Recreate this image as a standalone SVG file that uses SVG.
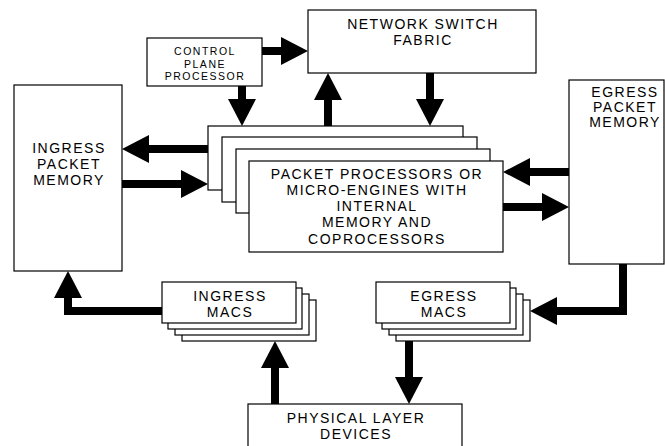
<svg xmlns="http://www.w3.org/2000/svg" width="665" height="446" viewBox="0 0 665 446">
<style>
.box{fill:#fff;stroke:#000;stroke-width:1.2}
.t{font-family:"Liberation Sans",Arial,sans-serif;font-size:14px;letter-spacing:1.5px;text-anchor:middle;fill:#000}
.ts{font-family:"Liberation Sans",Arial,sans-serif;font-size:10.5px;letter-spacing:1.5px;text-anchor:middle;fill:#000}
.a{fill:none;stroke:#000;stroke-width:8;stroke-linejoin:miter;marker-end:url(#ah)}
</style>
<defs>
<marker id="ah" markerUnits="userSpaceOnUse" markerWidth="28" markerHeight="28" refX="0" refY="14" orient="auto" overflow="visible">
<path d="M0,0 L27,14 L0,28 z" fill="#000"/>
</marker>
</defs>
<rect width="665" height="446" fill="#fff"/>
<g id="connectors">
<path class="a" d="M262,51 H281"/>
<path class="a" d="M242,86 V99"/>
<path class="a" d="M328,126 V100"/>
<path class="a" d="M430,73 V99"/>
<path class="a" d="M208,149 H149"/>
<path class="a" d="M122,184 H181"/>
<path class="a" d="M569,172 H530"/>
<path class="a" d="M503,207 H542"/>
<path class="a" d="M162,311 H68 V298"/>
<path class="a" d="M275,404 V368"/>
<path class="a" d="M623,264 V311 H557"/>
<path class="a" d="M409,341 V377"/>
</g>
<g id="control-plane">
<rect class="box" x="147" y="38" width="115" height="48"/>
<text class="ts" x="205" y="55">CONTROL</text>
<text class="ts" x="205" y="67.5">PLANE</text>
<text class="ts" x="205" y="80">PROCESSOR</text>
</g>
<g id="switch-fabric">
<rect class="box" x="308" y="10" width="228" height="63"/>
<text class="t" x="423" y="29">NETWORK SWITCH</text>
<text class="t" x="423" y="45">FABRIC</text>
</g>
<g id="ingress-memory">
<rect class="box" x="14" y="85" width="108" height="186"/>
<text class="t" x="69" y="153">INGRESS</text>
<text class="t" x="69" y="169">PACKET</text>
<text class="t" x="69" y="185">MEMORY</text>
</g>
<g id="egress-memory">
<rect class="box" x="569" y="80" width="95" height="184"/>
<text class="t" x="625" y="97">EGRESS</text>
<text class="t" x="625" y="112">PACKET</text>
<text class="t" x="625" y="127">MEMORY</text>
</g>
<g id="packet-processors">
<rect class="box" x="208" y="126" width="255" height="64"/>
<rect class="box" x="222" y="137" width="255" height="65"/>
<rect class="box" x="236" y="149" width="254" height="64"/>
<rect class="box" x="249" y="161" width="254" height="91"/>
<text class="t" x="377" y="179">PACKET PROCESSORS OR</text>
<text class="t" x="377" y="195">MICRO-ENGINES WITH</text>
<text class="t" x="377" y="211">INTERNAL</text>
<text class="t" x="377" y="227">MEMORY AND</text>
<text class="t" x="377" y="244">COPROCESSORS</text>
</g>
<g id="ingress-macs">
<rect class="box" x="182" y="300" width="134" height="41"/>
<rect class="box" x="175" y="294" width="134" height="41"/>
<rect class="box" x="168" y="288" width="134" height="41"/>
<rect class="box" x="162" y="282" width="134" height="41"/>
<text class="t" x="230" y="301">INGRESS</text>
<text class="t" x="230" y="317">MACS</text>
</g>
<g id="egress-macs">
<rect class="box" x="396" y="300" width="134" height="41"/>
<rect class="box" x="389" y="294" width="134" height="41"/>
<rect class="box" x="382" y="288" width="134" height="41"/>
<rect class="box" x="376" y="282" width="134" height="41"/>
<text class="t" x="444" y="301">EGRESS</text>
<text class="t" x="444" y="317">MACS</text>
</g>
<g id="physical-layer">
<rect class="box" x="248" y="404" width="214" height="60"/>
<text class="t" x="356" y="423">PHYSICAL LAYER</text>
<text class="t" x="356" y="439">DEVICES</text>
</g>
</svg>
